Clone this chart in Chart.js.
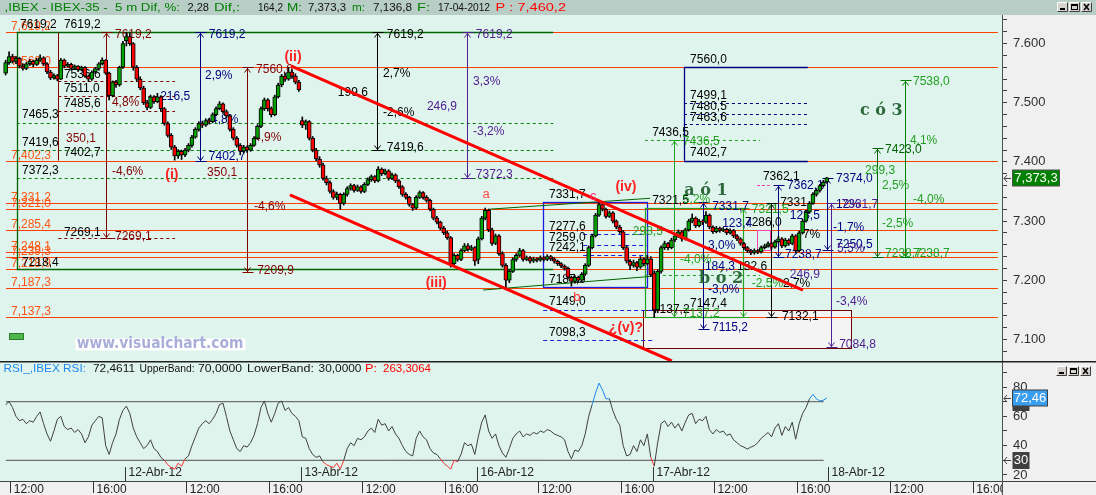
<!DOCTYPE html>
<html>
<head>
<meta charset="utf-8">
<title>IBEX-35 5 m</title>
<script src="https://cdn.jsdelivr.net/npm/chart.js@4.4.1/dist/chart.umd.min.js"></script>
<style>
  html, body { margin:0; padding:0; background:#e0f4ee; }
  body { width:1096px; height:495px; position:relative; overflow:hidden; }
  canvas { position:absolute; left:0; display:block; }
  #main { top:0; }
  #rsi { top:361px; }
</style>
</head>
<body>
<canvas id="main" width="1096" height="361"></canvas>
<canvas id="rsi" width="1096" height="134"></canvas>
<script>
// ---------------- DATA (10-minute candles, slot = bar index; slot 16 = 11-Apr 11:40) ----------------
const FIRST_SLOT = 16;

const open = [
  // 11-Apr
  7550,7568,7578,7570,7575,7562,7558,7566,7570,7565,
  7572,7576,7566,7552,7542,7546,7540,7572,7562,7565,
  7558,7562,7556,7560,7545,7540,7552,7558,7566,7572,
  7550,7512,7535,7530,7560,
  // 12-Apr
  7605,7612,7600,7560,7540,7525,7500,7492,7510,7502,
  7510,7490,7465,7445,7425,7410,7418,7412,7420,7428,
  7442,7455,7465,7462,7470,7468,7480,7490,7498,7485,
  7478,7455,7440,7428,7418,7425,7420,7428,7440,7460,
  7490,7505,7490,7480,7510,7530,7545,7540,7552,7545,
  7535,
  // 13-Apr
  7470,7462,7468,7440,7420,7405,7395,7372,7365,7350,
  7340,7345,7330,7345,7355,7360,7352,7358,7350,7362,
  7370,7375,7368,7388,7380,7385,7372,7378,7368,7358,
  7345,7340,7328,7322,7340,7348,7340,7335,7320,7305,
  7298,7288,7280,7272,7228,7242,7235,7250,7258,7252,
  7255,
  // 16-Apr
  7235,7270,7305,7318,7285,7262,7275,7245,7225,7200,
  7215,7235,7242,7250,7235,7238,7232,7236,7234,7238,
  7235,7240,7236,7232,7228,7224,7220,7205,7198,7205,
  7200,7210,7225,7255,7275,7310,7328,7320,7308,7314,
  7300,7290,7282,7255,7232,7225,7230,7222,7236,7228,
  7236,
  // 17-Apr
  7212,7150,7215,7255,7262,7255,7268,7275,7282,7270,
  7285,7300,7305,7292,7300,7298,7310,7290,7282,7288,
  7284,7286,7280,7284,7275,7270,7262,7255,7250,7246,
  7250,7248,7255,7258,7262,7256,7265,7270,7258,7268,
  7262,7275,7250,7280,7300,7315,7330,7345,7352,7360,
  7366
];
const high = [
  7572,7586,7582,7578,7577,7566,7568,7573,7572,7575,
  7581,7578,7568,7555,7549,7548,7575,7574,7568,7567,
  7564,7563,7562,7561,7547,7554,7560,7568,7576,7573,
  7552,7537,7538,7562,7604,
  7619.2,7618,7602,7563,7544,7528,7504,7513,7512,7516,
  7512,7492,7468,7448,7428,7421,7420,7423,7431,7445,
  7458,7468,7469,7473,7474,7483,7493,7502,7500,7488,
  7480,7458,7443,7431,7428,7427,7431,7443,7463,7493,
  7508,7507,7493,7513,7533,7548,7550,7560,7556,7549,
  7538,
  7476,7471,7470,7443,7423,7409,7398,7376,7368,7353,
  7349,7347,7348,7358,7363,7362,7361,7360,7365,7373,
  7378,7377,7392,7390,7388,7387,7381,7380,7370,7360,
  7348,7342,7330,7343,7351,7350,7343,7337,7322,7308,
  7300,7291,7283,7274,7245,7244,7253,7262,7262,7259,
  7257,
  7273,7308,7322,7320,7288,7278,7277,7248,7228,7218,
  7238,7245,7254,7252,7241,7240,7239,7238,7241,7240,
  7243,7242,7238,7234,7230,7226,7222,7207,7208,7207,
  7213,7228,7258,7278,7313,7331.7,7330,7322,7317,7316,
  7302,7293,7284,7258,7235,7234,7232,7240,7238,7242,
  7240,
  7216,7218,7258,7266,7264,7271,7278,7285,7284,7288,
  7303,7312,7307,7303,7302,7316,7312,7292,7291,7290,
  7289,7288,7287,7286,7277,7272,7264,7257,7252,7253,
  7252,7258,7261,7265,7264,7268,7274,7272,7271,7270,
  7278,7277,7283,7303,7318,7333,7348,7355,7362.1,7369,
  7374
];
const low = [
  7547,7565,7567,7566,7559,7555,7556,7563,7561,7563,
  7570,7563,7549,7539,7540,7537,7539,7559,7560,7555,
  7556,7553,7554,7543,7536,7538,7550,7556,7564,7548,
  7505,7510,7526,7528,7558,
  7596,7597,7555,7536,7522,7497,7488,7490,7499,7500,
  7486,7462,7442,7421,7403,7406,7404,7409,7417,7425,
  7440,7452,7458,7460,7464,7466,7478,7488,7482,7474,
  7452,7437,7425,7412,7415,7416,7418,7426,7438,7458,
  7487,7486,7476,7478,7508,7527,7536,7538,7541,7532,
  7519,
  7458,7455,7437,7417,7402,7391,7369,7361,7347,7337,
  7336,7320,7327,7342,7352,7349,7350,7347,7348,7360,
  7367,7365,7366,7377,7378,7369,7370,7365,7355,7342,
  7337,7325,7318,7320,7338,7337,7332,7317,7302,7295,
  7285,7277,7269,7222,7225,7232,7233,7248,7249,7250,
  7225,
  7228,7268,7302,7282,7259,7260,7242,7222,7188,7196,
  7213,7232,7240,7232,7233,7229,7230,7231,7232,7232,
  7233,7233,7229,7225,7221,7217,7202,7190,7195,7196,
  7198,7208,7223,7253,7273,7308,7317,7305,7306,7297,
  7287,7279,7252,7229,7218,7222,7216,7220,7224,7226,
  7206,
  7136.8,7145,7212,7252,7251,7253,7265,7272,7266,7268,
  7283,7297,7289,7290,7294,7296,7287,7279,7280,7281,
  7282,7277,7278,7272,7267,7259,7252,7247,7243,7244,
  7245,7246,7253,7256,7253,7254,7263,7255,7256,7259,
  7260,7246,7248,7278,7298,7313,7328,7342,7349,7357,
  7364
];
const close = [
  7568,7578,7570,7575,7562,7558,7566,7570,7565,7572,
  7576,7566,7552,7542,7546,7540,7572,7562,7565,7558,
  7562,7556,7560,7545,7540,7552,7558,7566,7572,7550,
  7512,7535,7530,7560,7600,
  7612,7600,7560,7540,7525,7500,7492,7510,7502,7510,
  7490,7465,7445,7425,7410,7418,7412,7420,7428,7442,
  7455,7465,7462,7470,7468,7480,7490,7498,7485,7478,
  7455,7440,7428,7418,7425,7420,7428,7440,7460,7490,
  7505,7490,7480,7510,7530,7545,7540,7552,7545,7535,
  7522,
  7462,7468,7440,7420,7405,7395,7372,7365,7350,7340,
  7345,7330,7345,7355,7360,7352,7358,7350,7362,7370,
  7375,7368,7388,7380,7385,7372,7378,7368,7358,7345,
  7340,7328,7322,7340,7348,7340,7335,7320,7305,7298,
  7288,7280,7272,7228,7242,7235,7250,7258,7252,7255,
  7232,
  7270,7305,7318,7285,7262,7275,7245,7225,7200,7215,
  7235,7242,7250,7235,7238,7232,7236,7234,7238,7235,
  7240,7236,7232,7228,7224,7220,7205,7198,7205,7200,
  7210,7225,7255,7275,7310,7328,7320,7308,7314,7300,
  7290,7282,7255,7232,7225,7230,7222,7236,7228,7236,
  7209.1,
  7150,7215,7255,7262,7255,7268,7275,7282,7270,7285,
  7300,7305,7292,7300,7298,7310,7290,7282,7288,7284,
  7286,7280,7284,7275,7270,7262,7255,7250,7246,7250,
  7248,7255,7258,7262,7256,7265,7270,7258,7268,7262,
  7275,7250,7280,7300,7315,7330,7345,7352,7360,7366,
  7373.3
];
const rsi = [
  68,70,66,60,57,58,55,57,56,60,
  63,55,48,43,50,58,60,53,51,52,
  49,51,48,42,46,54,57,60,59,40,
  34,42,48,58,64,
  67,62,52,46,42,38,40,44,38,36,
  32,30,27,25,24,28,26,31,33,40,
  46,52,55,57,55,58,62,68,69,60,
  50,44,38,36,40,39,42,47,55,66,
  70.5,62,56,62,69,70.5,64,66,62,60,
  57,
  46,45,38,34,32,33,29,27,26,25,
  28,24,30,38,42,40,45,44,46,50,
  52,49,58,54,55,50,53,48,45,40,
  36,34,33,45,50,46,44,38,35,34,
  31,28,26,24,30,29,34,42,40,41,
  34,
  46,56,61,50,45,48,40,35,32,38,
  45,48,50,46,48,47,49,48,50,49,
  51,50,48,47,46,44,36,31,37,36,
  40,48,60,68,76,82.7,78,72,72,64,
  58,54,40,33,34,40,36,44,40,48,
  32,
  26,42,55,57,53,56,52,55,50,56,
  61,62,55,58,57,60,51,48,51,49,
  50,47,48,44,42,40,39,37.7,39,40,
  42,45,47,49,46,52,55,47,53,50,
  56,44.4,55,62,66,72,75,72,70.5,71,
  72.46
];

// axis ticks and labels
const priceTicks = [7080,7100,7120,7140,7160,7180,7200,7220,7240,7260,7280,7300,7320,7340,7360,7380,7400,7420,7440,7460,7480,7500,7520,7540,7560,7580,7600,7620,7640];
const priceLabelValues = [7100,7200,7300,7400,7500,7600];
const priceLabelTexts = ['7.100','7.200','7.300','7.400','7.500','7.600'];
const rsiTicks = [20,30,40,50,60,70,80,90];
const rsiLabelValues = [20,40,60,80];
const timeTickSlots = [17.5,41.5,68.5,92.5,119.5,143.5,170.5,194.5,221.5,245.5,272.5,296.5];
const timeTickLabels = ['12:00','16:00','12:00','16:00','12:00','16:00','12:00','16:00','12:00','16:00','12:00','16:00'];
const dayStartSlots = [50.5,101.5,152.5,203.5,254.5];
const dayLabels = ['12-Abr-12','13-Abr-12','16-Abr-12','17-Abr-12','18-Abr-12'];
const orangeLevels = [7619.2,7560.0,7402.3,7331.2,7321.0,7285.4,7248.1,7239.3,7218.5,7187.3,7137.3];
const orangeLevelLabels = ['7,619,2','7,560,0','7,402,3','7,331,2','7,321,0','7,285,4','7,248,1','7,239,3','7,218,9','7,187,3','7,137,3'];
const lastPrice = 7373.3, lastPriceLabel = '7,373,3';
const lastRsi = 72.46, lastRsiLabel = '72,46';
const rsiBands = [70, 30];

// ---------------- VIEW ----------------
const X_MIN = 14.37, X_MAX = 304.8;
const Y_MIN = 7063.4, Y_MAX = 7648.4;
const R_MIN = 15.87, R_MAX = 97.78;

const F12 = '12px "Liberation Sans", Arial, sans-serif';
const F11 = '11px "Liberation Sans", Arial, sans-serif';
const F13 = '13px "Liberation Sans", Arial, sans-serif';
const ORANGE = '#ff4000', OTXT = '#ff5412', DKG = '#006400', GRN = '#008000', BGRN = '#22a022',
      MAR = '#800000', NAVY = '#000080', PUR = '#502090', BLUE = '#1c1ce0', BLK = '#000000', PINK = '#ff40b0';

function makeDraw(chart, yId) {
  const ctx = chart.ctx, xs = chart.scales.x, ys = chart.scales[yId || 'y'];
  const X = v => xs.getPixelForValue(v), Y = v => ys.getPixelForValue(v);
  const c = v => Math.round(v) + 0.5;
  const d = { ctx, X, Y, c };
  d.line = (x1, y1, x2, y2, color, w, dash) => {
    ctx.save(); ctx.strokeStyle = color; ctx.lineWidth = w || 1; ctx.setLineDash(dash || []);
    ctx.beginPath(); ctx.moveTo(x1, y1); ctx.lineTo(x2, y2); ctx.stroke(); ctx.restore();
  };
  d.hline = (p, s1, s2, color, w, dash) => { const y = c(Y(p)); d.line(X(s1), y, X(s2), y, color, w, dash); };
  d.vline = (s, p1, p2, color, w, dash) => { const x = c(X(s)); d.line(x, Y(p1), x, Y(p2), color, w, dash); };
  d.seg = (s1, p1, s2, p2, color, w) => d.line(X(s1), Y(p1), X(s2), Y(p2), color, w);
  d.arrow = (s, pTop, pBot, color) => {
    const x = c(X(s)), y1 = c(Y(pTop)), y2 = c(Y(pBot));
    d.line(x, y1, x, y2, color, 1);
    d.line(x - 5, y1, x + 6, y1, color, 1);
    d.line(x - 5, y2, x + 6, y2, color, 1);
    ctx.save(); ctx.strokeStyle = color; ctx.lineWidth = 1; ctx.beginPath();
    ctx.moveTo(x - 3, y1 + 5); ctx.lineTo(x, y1 + 1); ctx.lineTo(x + 3, y1 + 5);
    ctx.moveTo(x - 3, y2 - 5); ctx.lineTo(x, y2 - 1); ctx.lineTo(x + 3, y2 - 5);
    ctx.stroke(); ctx.restore();
  };
  d.rect = (s1, p1, s2, p2, stroke, fill, w) => {
    const x1 = c(X(s1)), x2 = c(X(s2)), y1 = c(Y(p1)), y2 = c(Y(p2));
    ctx.save();
    if (fill) { ctx.fillStyle = fill; ctx.fillRect(x1, y1, x2 - x1, y2 - y1); }
    if (stroke) { ctx.strokeStyle = stroke; ctx.lineWidth = w || 1; ctx.strokeRect(x1, y1, x2 - x1, y2 - y1); }
    ctx.restore();
  };
  d.text = (str, s, p, color, font, align) => {
    ctx.save(); ctx.font = font || F12; ctx.fillStyle = color; ctx.textAlign = align || 'left'; ctx.textBaseline = 'middle';
    ctx.fillText(str, X(s), Y(p)); ctx.restore();
  };
  return d;
}

// draw text squeezed/stretched to a target pixel span
function fitText(ctx, str, x0, x1, y, color, font) {
  ctx.save(); ctx.font = font; ctx.fillStyle = color; ctx.textBaseline = 'middle'; ctx.textAlign = 'left';
  const w = ctx.measureText(str).width; const k = (x1 - x0) / w;
  ctx.translate(x0, y); ctx.scale(k, 1); ctx.fillText(str, 0, 0); ctx.restore();
}

function drawButtons(ctx, x, y) {
  for (let i = 0; i < 3; i++) {
    const bx = x + i * 12;
    ctx.fillStyle = '#d6d3ce'; ctx.fillRect(bx, y, 11, 10);
    ctx.strokeStyle = '#ffffff'; ctx.lineWidth = 1;
    ctx.beginPath(); ctx.moveTo(bx + 0.5, y + 9.5); ctx.lineTo(bx + 0.5, y + 0.5); ctx.lineTo(bx + 10.5, y + 0.5); ctx.stroke();
    ctx.strokeStyle = '#404040';
    ctx.beginPath(); ctx.moveTo(bx + 10.5, y + 0.5); ctx.lineTo(bx + 10.5, y + 9.5); ctx.lineTo(bx + 0.5, y + 9.5); ctx.stroke();
    ctx.strokeStyle = '#000'; ctx.fillStyle = '#000';
    if (i === 0) ctx.fillRect(bx + 3, y + 6, 5, 2);
    if (i === 1) { ctx.strokeRect(bx + 2.5, y + 2.5, 6, 5); ctx.fillRect(bx + 2, y + 2, 7, 2); }
    if (i === 2) { ctx.lineWidth = 1.5; ctx.beginPath(); ctx.moveTo(bx + 3, y + 2); ctx.lineTo(bx + 8, y + 8); ctx.moveTo(bx + 8, y + 2); ctx.lineTo(bx + 3, y + 8); ctx.stroke(); }
  }
}

function leftArrow(ctx, x, y) {
  ctx.save(); ctx.strokeStyle = '#404040'; ctx.lineWidth = 1; ctx.beginPath();
  ctx.moveTo(x + 7, y + 0.5); ctx.lineTo(x, y + 0.5); ctx.moveTo(x + 3, y - 3); ctx.lineTo(x, y + 0.5); ctx.lineTo(x + 3, y + 4);
  ctx.stroke(); ctx.restore();
}

// ---------------- MAIN CHART ----------------
const wickData = open.map((_, i) => ({ x: FIRST_SLOT + i, y: [low[i], high[i]] }));
const bodyData = open.map((o, i) => ({ x: FIRST_SLOT + i, y: [o, close[i]] }));

const mainPlugin = {
  id: 'mainDeco',
  beforeDraw(chart) {
    const ctx = chart.ctx, a = chart.chartArea;
    ctx.save();
    ctx.fillStyle = '#e0f4ee'; ctx.fillRect(0, 0, 1096, 361);
    ctx.fillStyle = '#f0f0f0'; ctx.fillRect(a.right, a.top, 1096 - a.right, a.bottom - a.top);
    ctx.fillStyle = '#b9cdc7'; ctx.fillRect(0, 0, 1096, 15);
    const G = '#008000', K = '#111111', R = '#ff0000';
    const segs = [
      [',IBEX - IBEX-35 -  5 m Dif, %:', G, 4.6, 179.9], ['2,28', K, 187.5, 209], ['Dif,:', G, 214, 240],
      ['164,2', K, 258, 283], ['M:', G, 287, 302], ['7,373,3', K, 308, 346], ['m:', G, 352, 365],
      ['7,136,8', K, 373, 412], ['F:', G, 417, 430], ['17-04-2012', K, 438, 490], ['P : 7,460,2', R, 495.6, 566]
    ];
    for (const s of segs) fitText(ctx, s[0], s[2], s[3], 8, s[1], F11);
    drawButtons(ctx, 1057, 2);
    ctx.restore();
  },
  beforeDatasetsDraw(chart) {
    const d = makeDraw(chart), ctx = d.ctx, a = chart.chartArea;
    ctx.save(); ctx.beginPath(); ctx.rect(a.left, a.top, a.right - a.left, a.bottom - a.top); ctx.clip();
    // bottom light box
    d.rect(200.8, 7149.6, 260.9, 7085.9, '#700000', '#f4f4f4');
    // orange levels
    orangeLevels.forEach((p, i) => {
      d.hline(p, 16.1, 303.6, ORANGE, 1);
      ctx.save(); ctx.font = F12; ctx.fillStyle = OTXT; ctx.textBaseline = 'alphabetic';
      ctx.fillText(orangeLevelLabels[i], 11, Math.round(d.Y(p)) - 2); ctx.restore();
    });
    // dark green box (open right)
    d.hline(7619.2, 19.21, 174.7, DKG, 1.3);
    d.vline(19.21, 7619.2, 7218.5, DKG, 1.3);
    d.hline(7218.5, 19.21, 174.7, DKG, 1.3);
    [7465.3, 7419.7, 7372.3].forEach(p => d.hline(p, 19.21, 174.7, GRN, 1, [3, 3]));
    // maroon structure
    d.vline(31.27, 7619.2, 7402.3, MAR, 1);
    [7536.9, 7511.5, 7485.6, 7270.9].forEach(p => d.hline(p, 31.27, 65.1, MAR, 1, [3, 3]));
    d.arrow(45.1, 7619.2, 7270.9, MAR);
    d.arrow(72.4, 7619.2, 7402.3, NAVY);
    d.arrow(85.96, 7560.0, 7214.4, MAR);
    d.arrow(123.7, 7619.2, 7419.7, BLK);
    d.arrow(149.6, 7619.2, 7372.3, PUR);
    // blue box
    d.rect(171.8, 7331.7, 201.8, 7188.0, BLUE, null, 1.3);
    [7277.6, 7259.0, 7242.1].forEach(p => d.hline(p, 183.4, 201.8, BLUE, 1, [4, 3]));
    d.hline(7149.6, 171.8, 203.6, BLUE, 1, [4, 3]);
    d.hline(7098.9, 171.8, 203.6, BLUE, 1, [4, 3]);
    // dark green trend lines
    d.seg(155.8, 7319.9, 202.8, 7338.5, DKG, 1);
    d.seg(154.4, 7183.4, 202.8, 7206.3, DKG, 1);
    // bright green box
    d.rect(201.3, 7321.6, 229.8, 7138.3, BGRN, null, 1.2);
    d.hline(7437.1, 201.3, 234.7, BGRN, 1, [3, 3]);
    d.hline(7208.8, 201.3, 234.7, BGRN, 1, [3, 3]);
    d.arrow(209.7, 7437.1, 7138.3, BGRN);
    d.arrow(229.8, 7321.6, 7138.3, BGRN);
    // navy box
    d.vline(212.6, 7560.0, 7402.1, NAVY, 1.3);
    d.hline(7560.0, 212.6, 248.5, NAVY, 1.3);
    d.hline(7402.1, 212.6, 248.5, NAVY, 1.3);
    [7499.1, 7481.1, 7463.6].forEach(p => d.hline(p, 212.6, 248.5, NAVY, 1, [3, 3]));
    // right-side arrows
    d.arrow(218.2, 7331.7, 7117.0, NAVY);
    d.arrow(237.8, 7330.0, 7138.3, BLK);
    d.arrow(239.96, 7361.0, 7238.7, NAVY);
    d.hline(7361.0, 233.8, 237.6, PINK, 1, [3, 2]);
    d.rect(233.8, 7284.9, 237.6, 7251.1, PINK, null, 1);
    d.arrow(254.0, 7372.3, 7251.1, NAVY);
    d.arrow(255.2, 7331.2, 7086.6, PUR);
    d.arrow(268.5, 7423.0, 7238.7, DKG);
    d.arrow(276.8, 7538.0, 7238.7, GRN);

    // texts
    const T = (list, color) => list.forEach(t => d.text(t[0], t[1], t[2], color, F12));
    T([['7619,2', 20.17, 7631.5], ['7619,2', 32.9, 7631.5], ['7536,6', 32.9, 7548.2], ['7511,0', 32.9, 7524.5],
       ['7485,6', 32.9, 7499.1], ['7465,3', 20.75, 7479.4], ['7419,6', 20.75, 7432.5], ['7402,7', 32.9, 7416.3],
       ['7372,3', 20.75, 7384.7], ['7269,1', 32.9, 7280.3], ['7218,4', 20.75, 7229.6],
       ['7619,2', 126.5, 7614.6], ['7419,6', 126.5, 7423.6], ['2,7%', 125.4, 7548.7], ['199,6', 112.3, 7516.6], ['-2,6%', 125.4, 7482.8],
       ['7331,7', 173.5, 7344.1], ['7277,6', 173.5, 7290.5], ['7259,0', 173.5, 7272.6], ['7242,1', 173.5, 7255.6],
       ['7187,9', 173.5, 7200.4], ['7149,0', 173.5, 7163.2], ['7098,3', 173.5, 7110.7],
       ['7436,5', 203.4, 7450.1], ['7321,5', 203.4, 7334.4], ['7147,4', 214.4, 7161.0], ['7137,2', 203.6, 7150.8],
       ['7560,0', 214.4, 7573.5], ['7499,1', 214.4, 7511.5], ['7480,5', 214.4, 7493.4], ['7463,6', 214.4, 7475.5], ['7402,7', 214.4, 7415.6],
       ['7286,0', 230.3, 7296.7], ['132,6', 228.0, 7223.0], ['7132,1', 241.0, 7138.3], ['7331', 240.5, 7330.6],
       ['7362,1', 235.5, 7375.0], ['2,7%', 241.3, 7193.6], ['7%', 247.1, 7276.4]], BLK);
    T([['350,1', 33.5, 7440], ['7619,2', 47.7, 7614.6], ['7269,1', 47.7, 7273.6], ['4,8%', 46.8, 7499.7], ['-4,6%', 46.8, 7383.5],
       ['7560,0', 88.6, 7555.5], ['4,9%', 88.0, 7440.5], ['-4,6%', 88.0, 7324.3], ['7209,9', 88.9, 7215.6], ['350,1', 74.4, 7381.3]], MAR);
    T([['7619,2', 74.9, 7614.6], ['7402,7', 74.9, 7408.9], ['2,9%', 73.8, 7545.3], ['216,5', 60.8, 7509.8], ['-4,8%', 74.4, 7470.9],
       ['7331,7', 220.8, 7324.3], ['7115,2', 220.8, 7120.4], ['3,0%', 219.6, 7258.4], ['-3,0%', 219.6, 7183.4], ['184,3', 218.7, 7222.8],
       ['123,4', 223.7, 7296.2], ['7362,1', 242.5, 7359.3], ['7238,7', 241.9, 7242.6], ['123,5', 243.3, 7308.6],
       ['7374,0', 256.7, 7371.1], ['7250,5', 256.7, 7259.5], ['-1,7%', 255.8, 7288.8], ['12%', 256.7, 7327.2]], NAVY);
    T([['7619,2', 152.3, 7614.6], ['7372,3', 152.3, 7377.9], ['3,3%', 151.5, 7535.2], ['246,9', 138.1, 7492.9], ['-3,2%', 151.5, 7450.6],
       ['246,9', 243.3, 7208.8], ['7084,8', 257.6, 7090.4], ['-3,4%', 256.7, 7163.7], ['5,5%', 257.0, 7252.8], ['7331,7', 258.3, 7327.2]], PUR);
    T([['7436,5', 212.3, 7434.2], ['298,5', 197.8, 7282.0], ['-4,0%', 211.5, 7234.2], ['7137,2', 212.3, 7142.9], ['5,2%', 212.3, 7335.6],
       ['7321,5', 232.3, 7318.7], ['-2,5%', 232.3, 7193.6], ['299,3', 265.1, 7384.7], ['2,5%', 270.0, 7359.3], ['-2,5%', 270.0, 7296.2],
       ['7238,7', 270.9, 7244.3], ['7538,0', 279.0, 7535.7], ['4,1%', 278.1, 7435.4], ['-4,0%', 279.0, 7336.8], ['7238,7', 279.0, 7244.3]], BGRN);
    T([['7423,0', 270.9, 7420.7]], DKG);

    // watermark
    d.rect(36.1, 7101.8, 85.4, 7082.0, null, '#ffffff');
    fitText(ctx, 'www.visualchart.com', d.X(36.6), d.X(84.9), d.Y(7092.2), '#a9aed8', 'bold 15px "DejaVu Sans", Verdana, sans-serif');
    // small green marker
    d.rect(17.07, 7110.2, 20.95, 7100.6, '#2a7a2a', '#4cb84c');
    ctx.restore();
  },
  afterDatasetsDraw(chart) {
    const d = makeDraw(chart), ctx = d.ctx, a = chart.chartArea;
    ctx.save(); ctx.beginPath(); ctx.rect(a.left, a.top, a.right - a.left, a.bottom - a.top); ctx.clip();
    // red channel
    d.seg(98.7, 7562.2, 247.1, 7183.4, '#ff0000', 3);
    d.seg(98.4, 7344.1, 209.1, 7063.4, '#ff0000', 3);
    // wave labels
    const RB = 'bold 14px "Liberation Sans", Arial, sans-serif';
    [['(i)', 64.2, 7377.9], ['(ii)', 99.3, 7577.4], ['(iii)', 140.8, 7195.3], ['(iv)', 195.8, 7357.6], ['¿(v)?', 195.8, 7119.2]]
      .forEach(t => d.text(t[0], t[1], t[2], '#ff2020', RB, 'center'));
    d.text('a', 155.3, 7345.8, '#ff4848', F13, 'center');
    d.text('b', 181.6, 7171.6, '#ff3030', F13, 'center');
    d.text('c', 186.3, 7342.4, '#ff2a7a', F13, 'center');
    const SB = 'bold 16px "DejaVu Serif", "Liberation Serif", serif';
    [['a ó 1', 219.0, 7350.8], ['b ó 2', 223.4, 7202.1], ['c ó 3', 269.8, 7486.1]]
      .forEach(t => d.text(t[0], t[1], t[2], '#2e6b3c', SB, 'center'));
    ctx.restore();
  },
  afterDraw(chart) {
    const ctx = chart.ctx, ys = chart.scales.y;
    const y = Math.round(ys.getPixelForValue(lastPrice));
    ctx.save();
    leftArrow(ctx, 1004, y);
    ctx.fillStyle = '#008000'; ctx.fillRect(1012.5, y - 8, 47, 16);
    ctx.strokeStyle = '#505050'; ctx.lineWidth = 1; ctx.strokeRect(1012.5, y - 8, 47, 16);
    ctx.font = F13; ctx.fillStyle = '#ffffff'; ctx.textAlign = 'center'; ctx.textBaseline = 'middle';
    ctx.fillText(lastPriceLabel, 1036, y + 0.5);
    ctx.restore();
  }
};

new Chart(document.getElementById('main'), {
  type: 'bar',
  data: {
    datasets: [
      { data: bodyData, order: 1, grouped: false, barThickness: 4, borderWidth: 1, borderColor: '#000000', borderSkipped: false,
        backgroundColor: ctx => (close[ctx.dataIndex] >= open[ctx.dataIndex] ? '#00a000' : '#ff0000') },
      { data: wickData, order: 2, grouped: false, barThickness: 1, borderWidth: 0, backgroundColor: '#000000' }
    ]
  },
  options: {
    responsive: false, animation: false, devicePixelRatio: 1,
    layout: { padding: { top: 15, left: 0, right: 0, bottom: 0 }, autoPadding: false },
    plugins: { legend: { display: false }, tooltip: { enabled: false } },
    scales: {
      x: { type: 'linear', min: X_MIN, max: X_MAX, display: false, offset: false },
      y: {
        position: 'right', min: Y_MIN, max: Y_MAX, z: 1,
        afterFit: s => { s.width = 94; s.paddingTop = 0; s.paddingBottom = 0; },
        afterBuildTicks: s => { s.ticks = priceTicks.map(v => ({ value: v })); },
        grid: { drawOnChartArea: false, drawTicks: true, tickLength: 5, tickColor: '#404040', tickWidth: 1 },
        border: { display: true, color: '#505050', width: 1 },
        ticks: { autoSkip: false, padding: 6, color: '#303030', font: { family: '"Liberation Sans", Arial, sans-serif', size: 13 },
          callback: v => { const k = priceLabelValues.indexOf(v); return k >= 0 ? priceLabelTexts[k] : ''; } }
      }
    }
  },
  plugins: [mainPlugin]
});

// ---------------- RSI CHART ----------------
const rsiData = rsi.map((v, i) => ({ x: FIRST_SLOT + i, y: v }));
const bandData = rsiBands.map(b => [{ x: 16.1, y: b }, { x: 253.1, y: b }]);

const rsiPlugin = {
  id: 'rsiDeco',
  beforeDraw(chart) {
    const ctx = chart.ctx, a = chart.chartArea;
    ctx.save();
    ctx.fillStyle = '#e0f4ee'; ctx.fillRect(0, 0, 1096, 134);
    ctx.fillStyle = '#f0f0f0'; ctx.fillRect(a.right, 0, 1096 - a.right, a.bottom);
    ctx.fillRect(0, a.bottom, 1096, 134 - a.bottom);
    ctx.restore();
  },
  beforeDatasetsDraw(chart) {
    const d = makeDraw(chart), ctx = d.ctx, a = chart.chartArea;
    ctx.save();
    // cover x labels overflowing into the right panel
    ctx.fillStyle = '#f0f0f0'; ctx.fillRect(a.right + 1, a.bottom + 1, 1096 - a.right, 14);
    ctx.strokeStyle = '#505050'; ctx.lineWidth = 1;
    ctx.beginPath(); ctx.moveTo(Math.round(a.right) + 0.5, a.bottom); ctx.lineTo(Math.round(a.right) + 0.5, 134); ctx.stroke();
    // title
    const segs = [['RSI_,IBEX RSI:', '#1e88f0', 3.5, 86], ['72,4611', '#111', 93, 135], ['UpperBand:', '#111', 139.6, 194.7],
      ['70,0000', '#111', 198, 242], ['LowerBand:', '#111', 247, 314], ['30,0000', '#111', 318.6, 361.4],
      ['P:', '#ff0000', 365, 377], ['263,3064', '#ff0000', 383, 431]];
    for (const s of segs) fitText(ctx, s[0], s[2], s[3], 8, s[1], F11);
    // day separators
    dayStartSlots.forEach((s, i) => {
      const x = Math.round(d.X(s)) + 0.5;
      d.line(x, a.bottom - 14, x, a.bottom, '#333333', 1);
      ctx.font = F12; ctx.fillStyle = '#222'; ctx.textBaseline = 'middle'; ctx.textAlign = 'left';
      ctx.fillText(dayLabels[i], x + 3, a.bottom - 8);
    });
    ctx.restore();
  },
  afterDraw(chart) {
    const ctx = chart.ctx, ys = chart.scales.y, a = chart.chartArea;
    ctx.save();
    // top separator line and bottom axis line
    ctx.strokeStyle = '#202020'; ctx.lineWidth = 1.5;
    ctx.beginPath(); ctx.moveTo(0, 0.75); ctx.lineTo(1096, 0.75); ctx.stroke();
    ctx.lineWidth = 1; ctx.strokeStyle = '#404040';
    ctx.beginPath(); ctx.moveTo(0, Math.round(a.bottom) + 0.5); ctx.lineTo(1096, Math.round(a.bottom) + 0.5); ctx.stroke();
    // value boxes
    const yv = Math.round(ys.getPixelForValue(lastRsi));
    leftArrow(ctx, 1004, yv);
    ctx.fillStyle = '#404040'; ctx.fillRect(1012.5, yv + 8, 17, 5);
    ctx.fillStyle = '#3a9ef0'; ctx.fillRect(1012.5, yv - 8, 35, 16);
    ctx.strokeStyle = '#404040'; ctx.strokeRect(1012.5, yv - 8, 35, 16);
    ctx.font = F13; ctx.fillStyle = '#fff'; ctx.textAlign = 'center'; ctx.textBaseline = 'middle';
    ctx.fillText(lastRsiLabel, 1030, yv + 0.5);
    const y30 = Math.round(ys.getPixelForValue(30));
    leftArrow(ctx, 1004, y30);
    ctx.fillStyle = '#404040'; ctx.fillRect(1012.5, y30 - 8, 17, 17);
    ctx.fillStyle = '#fff'; ctx.fillText('30', 1021, y30 + 0.5);
    drawButtons(ctx, 1056, 5);
    ctx.restore();
  }
};

new Chart(document.getElementById('rsi'), {
  type: 'line',
  data: {
    datasets: [
      { data: rsiData, borderColor: '#404040', borderWidth: 1, pointRadius: 0, tension: 0, order: 1,
        segment: { borderColor: s => { const m = (s.p0.parsed.y + s.p1.parsed.y) / 2; return m > 70 ? '#1e88f0' : (m < 30 ? '#ff3030' : '#404040'); } } },
      { data: bandData[0], borderColor: '#505050', borderWidth: 1, pointRadius: 0, order: 2 },
      { data: bandData[1], borderColor: '#505050', borderWidth: 1, pointRadius: 0, order: 3 }
    ]
  },
  options: {
    responsive: false, animation: false, devicePixelRatio: 1,
    layout: { padding: 0, autoPadding: false },
    plugins: { legend: { display: false }, tooltip: { enabled: false } },
    scales: {
      x: {
        type: 'linear', min: X_MIN, max: X_MAX, position: 'bottom', offset: false,
        afterFit: s => { s.height = 14; s.paddingLeft = 0; s.paddingRight = 0; },
        afterBuildTicks: s => { s.ticks = timeTickSlots.map(v => ({ value: v })); },
        grid: { drawOnChartArea: false, drawTicks: true, tickLength: 12, tickColor: '#333333' },
        border: { display: true, color: '#404040' },
        ticks: { autoSkip: false, maxRotation: 0, align: 'start', labelOffset: 3, padding: -11, color: '#222',
          font: { family: '"Liberation Sans", Arial, sans-serif', size: 12 },
          callback: (v, i) => timeTickLabels[i] }
      },
      y: {
        position: 'right', min: R_MIN, max: R_MAX, z: 1,
        afterFit: s => { s.width = 94; s.paddingTop = 0; s.paddingBottom = 0; },
        afterBuildTicks: s => { s.ticks = rsiTicks.map(v => ({ value: v })); },
        grid: { drawOnChartArea: false, drawTicks: true, tickLength: 5, tickColor: '#404040' },
        border: { display: true, color: '#505050' },
        ticks: { autoSkip: false, padding: 6, color: '#303030', font: { family: '"Liberation Sans", Arial, sans-serif', size: 13 },
          callback: v => (rsiLabelValues.indexOf(v) >= 0 ? String(v) : '') }
      }
    }
  },
  plugins: [rsiPlugin]
});
</script>
</body>
</html>
